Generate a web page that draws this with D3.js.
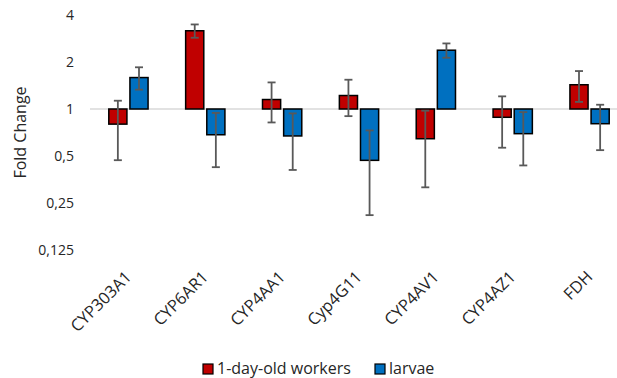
<!DOCTYPE html>
<html>
<head>
<meta charset="utf-8">
<script src="https://cdn.jsdelivr.net/npm/d3@7"></script>
<style>
  html, body { margin: 0; padding: 0; background: #fff; }
  svg { display: block; font-family: "Open Sans", sans-serif; }
</style>
</head>
<body>
<svg id="chart" width="617" height="378"></svg>
<script>
// Relative expression (fold change) of detoxification genes
const genes = ["CYP303A1", "CYP6AR1", "CYP4AA1", "Cyp4G11", "CYP4AV1", "CYP4AZ1", "FDH"];
const seriesNames = ["1-day-old workers", "larvae"];
const workers = [0.80, 3.17, 1.15, 1.22, 0.645, 0.885, 1.43];
const workersErr = [0.33, 0.31, 0.33, 0.32, 0.33, 0.32, 0.32];
const larvae = [1.59, 0.684, 0.672, 0.469, 2.38, 0.695, 0.805];
const larvaeErr = [0.26, 0.26, 0.265, 0.26, 0.25, 0.26, 0.26];
const yTicks = [4, 2, 1, 0.5, 0.25, 0.125];
const colors = ["#C00000", "#0070C0"];

const svg = d3.select("#chart");

const x = d3.scaleBand().domain(genes).range([90, 628]).padding(0);
const y = d3.scaleLog().base(2).domain([0.125, 4]).range([250, 15]);

const series = [
  { name: seriesNames[0], values: workers, errs: workersErr, color: colors[0] },
  { name: seriesNames[1], values: larvae, errs: larvaeErr, color: colors[1] }
];

const barW = x.bandwidth() * 0.236;
const gap = 3;
const offsets = [-gap / 2 - barW, gap / 2];

// baseline at fold change = 1
svg.append("line")
  .attr("x1", 90).attr("x2", 617)
  .attr("y1", y(1)).attr("y2", y(1))
  .attr("stroke", "#d9d9d9").attr("stroke-width", 1.5);

// y axis tick labels (decimal comma)
const fmt = v => String(v).replace(".", ",");
const yAxis = d3.axisLeft(y).tickValues(yTicks).tickFormat(fmt).tickSize(0).tickPadding(0);
const yg = svg.append("g").attr("transform", "translate(74,0)").call(yAxis);
yg.select(".domain").remove();
yg.selectAll("text")
  .attr("font-family", "Open Sans, sans-serif")
  .attr("font-size", 14).attr("fill", "#262626");

svg.append("text")
  .attr("transform", `translate(26,${(y(4) + y(0.125)) / 2}) rotate(-90)`)
  .attr("text-anchor", "middle")
  .attr("font-size", 16).attr("fill", "#262626")
  .text("Fold Change");

// bars and error bars
series.forEach((s, si) => {
  const g = svg.append("g");
  genes.forEach((gname, i) => {
    const v = s.values[i];
    const x0 = x(gname) + x.bandwidth() / 2 + offsets[si];
    const y0 = Math.min(y(v), y(1));
    const h = Math.abs(y(v) - y(1));
    g.append("rect")
      .attr("x", x0).attr("y", y0)
      .attr("width", barW).attr("height", h)
      .attr("fill", s.color)
      .attr("stroke", "#000").attr("stroke-width", 1.5);
  });
  genes.forEach((gname, i) => {
    const v = s.values[i], e = s.errs[i];
    const cx = x(gname) + x.bandwidth() / 2 + offsets[si] + barW / 2;
    const yt = y(v + e), yb = y(v - e);
    const eg = svg.append("g").attr("stroke", "#595959").attr("stroke-width", 1.8);
    eg.append("line").attr("x1", cx).attr("x2", cx).attr("y1", yt).attr("y2", yb);
    eg.append("line").attr("x1", cx - 4).attr("x2", cx + 4).attr("y1", yt).attr("y2", yt);
    eg.append("line").attr("x1", cx - 4).attr("x2", cx + 4).attr("y1", yb).attr("y2", yb);
  });
});

// rotated category labels
svg.append("g").selectAll("text")
  .data(genes)
  .join("text")
  .attr("transform", d => `translate(${x(d) + x.bandwidth() / 2 + 4},${278}) rotate(-45)`)
  .attr("text-anchor", "end")
  .attr("font-size", 16.5).attr("fill", "#262626")
  .text(d => d);

// legend
const legend = svg.append("g");
const legendX = [203, 375];
series.forEach((s, si) => {
  legend.append("rect")
    .attr("x", legendX[si]).attr("y", 364)
    .attr("width", 10).attr("height", 10)
    .attr("fill", s.color).attr("stroke", "#000").attr("stroke-width", 1.2);
  legend.append("text")
    .attr("x", legendX[si] + 14).attr("y", 374)
    .attr("font-size", 16).attr("fill", "#262626")
    .text(s.name);
});
</script>
</body>
</html>
